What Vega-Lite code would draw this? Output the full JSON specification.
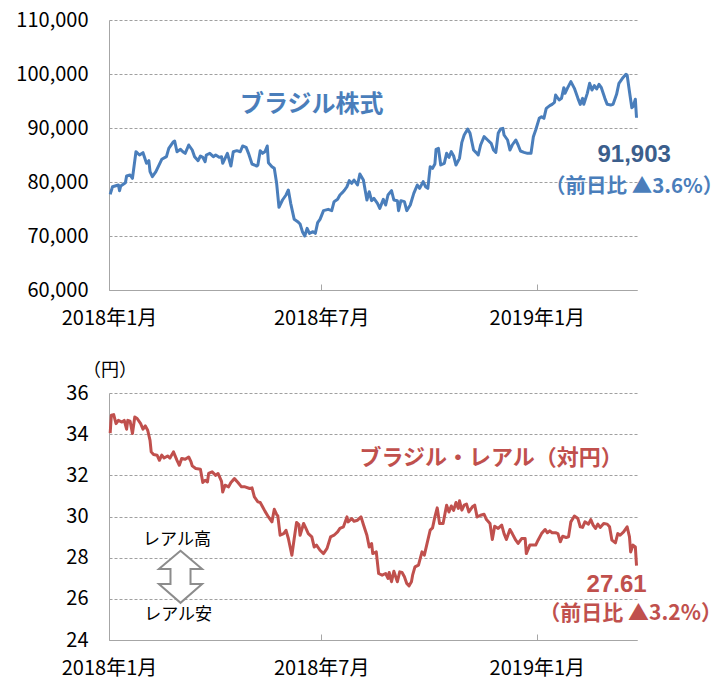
{
  "$schema": "https://vega.github.io/schema/vega-lite/v6.json",
  "background": "white",
  "padding": {"top": 10, "left": 15, "right": 0, "bottom": 2},
  "spacing": 34,
  "config": {
    "view": {"stroke": null},
    "font": "Noto Sans CJK JP",
    "axis": {
      "labelFont": "Noto Sans CJK JP",
      "labelFontSize": 20,
      "labelColor": "#000000",
      "domainColor": "#a6a6a6",
      "tickColor": "#a6a6a6",
      "gridColor": "#a0a0a0",
      "gridDash": [3, 2],
      "title": null
    }
  },
  "datasets": {
    "bov": [
      {"date": "2018-01-02", "value": 77700}, {"date": "2018-01-04", "value": 79130}, {"date": "2018-01-09", "value": 79444}, {"date": "2018-01-10", "value": 78390}, {"date": "2018-01-11", "value": 79259}, {"date": "2018-01-15", "value": 79870}, {"date": "2018-01-16", "value": 81111}, {"date": "2018-01-19", "value": 81296}, {"date": "2018-01-21", "value": 80680}, {"date": "2018-01-24", "value": 85611}, {"date": "2018-01-27", "value": 85000}, {"date": "2018-01-30", "value": 85432},
      {"date": "2018-02-02", "value": 83457}, {"date": "2018-02-04", "value": 83950}, {"date": "2018-02-05", "value": 81913}, {"date": "2018-02-07", "value": 80988}, {"date": "2018-02-10", "value": 81913}, {"date": "2018-02-15", "value": 84203}, {"date": "2018-02-19", "value": 84691}, {"date": "2018-02-21", "value": 86235}, {"date": "2018-02-25", "value": 87469}, {"date": "2018-02-26", "value": 87600}, {"date": "2018-02-28", "value": 85611},
      {"date": "2018-03-03", "value": 86050}, {"date": "2018-03-05", "value": 85611}, {"date": "2018-03-07", "value": 85309}, {"date": "2018-03-10", "value": 86852}, {"date": "2018-03-13", "value": 85926}, {"date": "2018-03-15", "value": 84691}, {"date": "2018-03-18", "value": 83950}, {"date": "2018-03-20", "value": 84815}, {"date": "2018-03-22", "value": 84568}, {"date": "2018-03-24", "value": 83765}, {"date": "2018-03-25", "value": 85000}, {"date": "2018-03-28", "value": 85309}, {"date": "2018-03-31", "value": 84691},
      {"date": "2018-04-02", "value": 85000}, {"date": "2018-04-05", "value": 84568}, {"date": "2018-04-07", "value": 84691}, {"date": "2018-04-08", "value": 83457}, {"date": "2018-04-10", "value": 84383}, {"date": "2018-04-12", "value": 85309}, {"date": "2018-04-15", "value": 82963}, {"date": "2018-04-17", "value": 85611}, {"date": "2018-04-20", "value": 85800}, {"date": "2018-04-23", "value": 85611}, {"date": "2018-04-25", "value": 86667}, {"date": "2018-04-28", "value": 86420}, {"date": "2018-04-30", "value": 85309},
      {"date": "2018-05-03", "value": 83333}, {"date": "2018-05-07", "value": 82963}, {"date": "2018-05-08", "value": 83150}, {"date": "2018-05-10", "value": 85800}, {"date": "2018-05-12", "value": 85309}, {"date": "2018-05-14", "value": 85611}, {"date": "2018-05-16", "value": 86667}, {"date": "2018-05-17", "value": 83580}, {"date": "2018-05-20", "value": 82840}, {"date": "2018-05-22", "value": 82531}, {"date": "2018-05-24", "value": 79753}, {"date": "2018-05-26", "value": 75309}, {"date": "2018-05-29", "value": 76667},
      {"date": "2018-06-01", "value": 77593}, {"date": "2018-06-03", "value": 78519}, {"date": "2018-06-05", "value": 76050}, {"date": "2018-06-08", "value": 73086}, {"date": "2018-06-11", "value": 72654}, {"date": "2018-06-13", "value": 72222}, {"date": "2018-06-15", "value": 70802}, {"date": "2018-06-17", "value": 70000}, {"date": "2018-06-19", "value": 71420}, {"date": "2018-06-21", "value": 70494}, {"date": "2018-06-24", "value": 70802}, {"date": "2018-06-26", "value": 70494}, {"date": "2018-06-28", "value": 72469}, {"date": "2018-06-30", "value": 73086},
      {"date": "2018-07-03", "value": 74691}, {"date": "2018-07-07", "value": 74938}, {"date": "2018-07-10", "value": 74691}, {"date": "2018-07-12", "value": 76358}, {"date": "2018-07-15", "value": 76790}, {"date": "2018-07-17", "value": 77593}, {"date": "2018-07-19", "value": 78025}, {"date": "2018-07-21", "value": 78519}, {"date": "2018-07-23", "value": 79136}, {"date": "2018-07-25", "value": 80247}, {"date": "2018-07-27", "value": 79753}, {"date": "2018-07-29", "value": 80370},
      {"date": "2018-08-01", "value": 79444}, {"date": "2018-08-03", "value": 81481}, {"date": "2018-08-06", "value": 80370}, {"date": "2018-08-09", "value": 76667}, {"date": "2018-08-11", "value": 78210}, {"date": "2018-08-13", "value": 76543}, {"date": "2018-08-15", "value": 76975}, {"date": "2018-08-18", "value": 76050}, {"date": "2018-08-20", "value": 75123}, {"date": "2018-08-23", "value": 76790}, {"date": "2018-08-25", "value": 75741}, {"date": "2018-08-27", "value": 77593}, {"date": "2018-08-30", "value": 78395},
      {"date": "2018-09-01", "value": 76667}, {"date": "2018-09-04", "value": 76543}, {"date": "2018-09-05", "value": 74691}, {"date": "2018-09-07", "value": 76543}, {"date": "2018-09-10", "value": 76358}, {"date": "2018-09-12", "value": 74691}, {"date": "2018-09-15", "value": 75741}, {"date": "2018-09-18", "value": 77901}, {"date": "2018-09-21", "value": 79444}, {"date": "2018-09-23", "value": 78827}, {"date": "2018-09-26", "value": 80062}, {"date": "2018-09-28", "value": 79136}, {"date": "2018-09-30", "value": 78827},
      {"date": "2018-10-02", "value": 82840}, {"date": "2018-10-04", "value": 82531}, {"date": "2018-10-06", "value": 83333}, {"date": "2018-10-07", "value": 86049}, {"date": "2018-10-09", "value": 86235}, {"date": "2018-10-11", "value": 83148}, {"date": "2018-10-14", "value": 83457}, {"date": "2018-10-16", "value": 85309}, {"date": "2018-10-18", "value": 84568}, {"date": "2018-10-20", "value": 85617}, {"date": "2018-10-22", "value": 84815}, {"date": "2018-10-24", "value": 83148}, {"date": "2018-10-27", "value": 84383}, {"date": "2018-10-29", "value": 87346}, {"date": "2018-10-31", "value": 88704},
      {"date": "2018-11-03", "value": 89815}, {"date": "2018-11-05", "value": 89012}, {"date": "2018-11-08", "value": 85926}, {"date": "2018-11-10", "value": 85494}, {"date": "2018-11-12", "value": 85000}, {"date": "2018-11-14", "value": 86852}, {"date": "2018-11-17", "value": 88395}, {"date": "2018-11-20", "value": 87778}, {"date": "2018-11-23", "value": 87160}, {"date": "2018-11-25", "value": 85926}, {"date": "2018-11-27", "value": 85494}, {"date": "2018-11-29", "value": 89012},
      {"date": "2018-12-01", "value": 89815}, {"date": "2018-12-03", "value": 89938}, {"date": "2018-12-04", "value": 88704}, {"date": "2018-12-07", "value": 87778}, {"date": "2018-12-09", "value": 85926}, {"date": "2018-12-11", "value": 86852}, {"date": "2018-12-14", "value": 87778}, {"date": "2018-12-16", "value": 86852}, {"date": "2018-12-18", "value": 85741}, {"date": "2018-12-21", "value": 85494}, {"date": "2018-12-24", "value": 85309}, {"date": "2018-12-27", "value": 85309}, {"date": "2018-12-29", "value": 88395}, {"date": "2018-12-31", "value": 89630},
      {"date": "2019-01-03", "value": 91790}, {"date": "2019-01-05", "value": 92099}, {"date": "2019-01-07", "value": 91790}, {"date": "2019-01-09", "value": 93642}, {"date": "2019-01-12", "value": 94136}, {"date": "2019-01-14", "value": 94383}, {"date": "2019-01-16", "value": 94753}, {"date": "2019-01-17", "value": 96111}, {"date": "2019-01-20", "value": 95185}, {"date": "2019-01-22", "value": 95494}, {"date": "2019-01-24", "value": 97469}, {"date": "2019-01-25", "value": 96420}, {"date": "2019-01-27", "value": 97346}, {"date": "2019-01-30", "value": 98580},
      {"date": "2019-02-02", "value": 97346}, {"date": "2019-02-05", "value": 95494}, {"date": "2019-02-07", "value": 94383}, {"date": "2019-02-09", "value": 95494}, {"date": "2019-02-10", "value": 94383}, {"date": "2019-02-13", "value": 96420}, {"date": "2019-02-15", "value": 98272}, {"date": "2019-02-17", "value": 97037}, {"date": "2019-02-19", "value": 97840}, {"date": "2019-02-21", "value": 97222}, {"date": "2019-02-23", "value": 98086}, {"date": "2019-02-25", "value": 97469}, {"date": "2019-02-28", "value": 95494},
      {"date": "2019-03-02", "value": 94383}, {"date": "2019-03-05", "value": 94259}, {"date": "2019-03-07", "value": 94383}, {"date": "2019-03-10", "value": 96235}, {"date": "2019-03-12", "value": 98272}, {"date": "2019-03-15", "value": 99198}, {"date": "2019-03-18", "value": 99938}, {"date": "2019-03-19", "value": 99815}, {"date": "2019-03-21", "value": 96728}, {"date": "2019-03-23", "value": 93765}, {"date": "2019-03-24", "value": 93951}, {"date": "2019-03-26", "value": 95335}, {"date": "2019-03-27", "value": 91903}
    ],
    "brl": [
      {"date": "2018-01-02", "value": 34.05}, {"date": "2018-01-03", "value": 34.92}, {"date": "2018-01-05", "value": 34.95}, {"date": "2018-01-07", "value": 34.51}, {"date": "2018-01-09", "value": 34.67}, {"date": "2018-01-12", "value": 34.59}, {"date": "2018-01-14", "value": 34.67}, {"date": "2018-01-16", "value": 34.24}, {"date": "2018-01-17", "value": 34.67}, {"date": "2018-01-19", "value": 34.63}, {"date": "2018-01-21", "value": 34.03}, {"date": "2018-01-23", "value": 34.83}, {"date": "2018-01-25", "value": 34.76}, {"date": "2018-01-28", "value": 34.51}, {"date": "2018-01-30", "value": 34.24},
      {"date": "2018-02-01", "value": 34.40}, {"date": "2018-02-03", "value": 34.19}, {"date": "2018-02-05", "value": 33.70}, {"date": "2018-02-06", "value": 33.14}, {"date": "2018-02-08", "value": 33.01}, {"date": "2018-02-11", "value": 32.98}, {"date": "2018-02-13", "value": 32.73}, {"date": "2018-02-15", "value": 32.98}, {"date": "2018-02-17", "value": 32.84}, {"date": "2018-02-20", "value": 32.94}, {"date": "2018-02-22", "value": 32.84}, {"date": "2018-02-25", "value": 33.14}, {"date": "2018-02-28", "value": 32.73},
      {"date": "2018-03-02", "value": 32.49}, {"date": "2018-03-04", "value": 32.82}, {"date": "2018-03-07", "value": 32.78}, {"date": "2018-03-10", "value": 32.89}, {"date": "2018-03-12", "value": 32.65}, {"date": "2018-03-13", "value": 32.46}, {"date": "2018-03-16", "value": 32.33}, {"date": "2018-03-20", "value": 32.30}, {"date": "2018-03-22", "value": 31.65}, {"date": "2018-03-24", "value": 31.76}, {"date": "2018-03-26", "value": 31.68}, {"date": "2018-03-27", "value": 32.09}, {"date": "2018-03-30", "value": 32.17},
      {"date": "2018-04-02", "value": 32.00}, {"date": "2018-04-04", "value": 32.09}, {"date": "2018-04-07", "value": 31.71}, {"date": "2018-04-08", "value": 31.19}, {"date": "2018-04-10", "value": 31.52}, {"date": "2018-04-13", "value": 31.44}, {"date": "2018-04-15", "value": 31.65}, {"date": "2018-04-18", "value": 31.84}, {"date": "2018-04-21", "value": 31.65}, {"date": "2018-04-24", "value": 31.44}, {"date": "2018-04-27", "value": 31.44},
      {"date": "2018-05-01", "value": 31.36}, {"date": "2018-05-03", "value": 31.39}, {"date": "2018-05-05", "value": 30.95}, {"date": "2018-05-08", "value": 30.71}, {"date": "2018-05-10", "value": 30.68}, {"date": "2018-05-12", "value": 30.47}, {"date": "2018-05-14", "value": 30.26}, {"date": "2018-05-17", "value": 29.98}, {"date": "2018-05-20", "value": 29.74}, {"date": "2018-05-22", "value": 30.35}, {"date": "2018-05-24", "value": 30.10}, {"date": "2018-05-25", "value": 30.03}, {"date": "2018-05-27", "value": 29.09}, {"date": "2018-05-30", "value": 29.17},
      {"date": "2018-06-01", "value": 29.33}, {"date": "2018-06-03", "value": 28.93}, {"date": "2018-06-06", "value": 28.12}, {"date": "2018-06-08", "value": 28.93}, {"date": "2018-06-10", "value": 29.71}, {"date": "2018-06-12", "value": 29.61}, {"date": "2018-06-13", "value": 29.09}, {"date": "2018-06-16", "value": 29.66}, {"date": "2018-06-18", "value": 29.42}, {"date": "2018-06-20", "value": 29.17}, {"date": "2018-06-23", "value": 29.01}, {"date": "2018-06-25", "value": 28.52}, {"date": "2018-06-27", "value": 28.61}, {"date": "2018-06-30", "value": 28.36},
      {"date": "2018-07-03", "value": 28.20}, {"date": "2018-07-06", "value": 28.45}, {"date": "2018-07-09", "value": 29.01}, {"date": "2018-07-12", "value": 29.09}, {"date": "2018-07-15", "value": 29.25}, {"date": "2018-07-17", "value": 29.42}, {"date": "2018-07-20", "value": 29.50}, {"date": "2018-07-23", "value": 29.98}, {"date": "2018-07-24", "value": 29.74}, {"date": "2018-07-27", "value": 29.90}, {"date": "2018-07-29", "value": 29.77},
      {"date": "2018-08-01", "value": 29.82}, {"date": "2018-08-04", "value": 29.98}, {"date": "2018-08-06", "value": 29.61}, {"date": "2018-08-09", "value": 29.09}, {"date": "2018-08-11", "value": 28.52}, {"date": "2018-08-13", "value": 28.69}, {"date": "2018-08-14", "value": 28.20}, {"date": "2018-08-17", "value": 28.28}, {"date": "2018-08-19", "value": 27.23}, {"date": "2018-08-22", "value": 27.15}, {"date": "2018-08-25", "value": 27.23}, {"date": "2018-08-27", "value": 26.99}, {"date": "2018-08-28", "value": 27.28}, {"date": "2018-08-30", "value": 26.83},
      {"date": "2018-09-01", "value": 27.34}, {"date": "2018-09-04", "value": 26.83}, {"date": "2018-09-06", "value": 27.31}, {"date": "2018-09-08", "value": 27.28}, {"date": "2018-09-10", "value": 27.07}, {"date": "2018-09-12", "value": 26.75}, {"date": "2018-09-14", "value": 26.63}, {"date": "2018-09-16", "value": 26.83}, {"date": "2018-09-17", "value": 27.15}, {"date": "2018-09-19", "value": 27.55}, {"date": "2018-09-22", "value": 27.64}, {"date": "2018-09-25", "value": 28.28}, {"date": "2018-09-27", "value": 28.12}, {"date": "2018-09-29", "value": 28.61},
      {"date": "2018-10-02", "value": 29.34}, {"date": "2018-10-04", "value": 29.45}, {"date": "2018-10-06", "value": 29.98}, {"date": "2018-10-08", "value": 30.42}, {"date": "2018-10-10", "value": 29.66}, {"date": "2018-10-13", "value": 29.66}, {"date": "2018-10-16", "value": 30.55}, {"date": "2018-10-18", "value": 30.22}, {"date": "2018-10-20", "value": 30.51}, {"date": "2018-10-22", "value": 30.30}, {"date": "2018-10-24", "value": 30.68}, {"date": "2018-10-26", "value": 30.39}, {"date": "2018-10-27", "value": 30.76}, {"date": "2018-10-29", "value": 30.31}, {"date": "2018-10-31", "value": 30.55},
      {"date": "2018-11-02", "value": 30.60}, {"date": "2018-11-04", "value": 30.22}, {"date": "2018-11-07", "value": 30.47}, {"date": "2018-11-09", "value": 30.55}, {"date": "2018-11-11", "value": 29.98}, {"date": "2018-11-14", "value": 30.06}, {"date": "2018-11-17", "value": 30.11}, {"date": "2018-11-19", "value": 29.85}, {"date": "2018-11-22", "value": 29.66}, {"date": "2018-11-24", "value": 28.88}, {"date": "2018-11-26", "value": 29.53}, {"date": "2018-11-29", "value": 29.42},
      {"date": "2018-12-02", "value": 29.58}, {"date": "2018-12-04", "value": 29.17}, {"date": "2018-12-06", "value": 28.88}, {"date": "2018-12-09", "value": 29.37}, {"date": "2018-12-11", "value": 29.17}, {"date": "2018-12-14", "value": 28.85}, {"date": "2018-12-16", "value": 28.69}, {"date": "2018-12-19", "value": 28.93}, {"date": "2018-12-22", "value": 28.93}, {"date": "2018-12-23", "value": 28.20}, {"date": "2018-12-26", "value": 28.61}, {"date": "2018-12-28", "value": 28.61}, {"date": "2018-12-31", "value": 28.61},
      {"date": "2019-01-02", "value": 28.85}, {"date": "2019-01-05", "value": 29.17}, {"date": "2019-01-08", "value": 29.37}, {"date": "2019-01-10", "value": 29.21}, {"date": "2019-01-12", "value": 29.30}, {"date": "2019-01-14", "value": 29.21}, {"date": "2019-01-17", "value": 29.21}, {"date": "2019-01-19", "value": 29.17}, {"date": "2019-01-21", "value": 28.77}, {"date": "2019-01-23", "value": 29.04}, {"date": "2019-01-26", "value": 28.98}, {"date": "2019-01-28", "value": 29.01}, {"date": "2019-01-30", "value": 29.74},
      {"date": "2019-02-02", "value": 30.02}, {"date": "2019-02-05", "value": 29.90}, {"date": "2019-02-07", "value": 29.50}, {"date": "2019-02-09", "value": 29.47}, {"date": "2019-02-11", "value": 29.74}, {"date": "2019-02-14", "value": 29.63}, {"date": "2019-02-16", "value": 29.85}, {"date": "2019-02-18", "value": 29.58}, {"date": "2019-02-20", "value": 29.42}, {"date": "2019-02-22", "value": 29.63}, {"date": "2019-02-24", "value": 29.47}, {"date": "2019-02-27", "value": 29.66},
      {"date": "2019-03-02", "value": 29.63}, {"date": "2019-03-04", "value": 29.50}, {"date": "2019-03-06", "value": 28.85}, {"date": "2019-03-09", "value": 28.72}, {"date": "2019-03-11", "value": 29.17}, {"date": "2019-03-13", "value": 29.09}, {"date": "2019-03-16", "value": 29.25}, {"date": "2019-03-19", "value": 29.50}, {"date": "2019-03-21", "value": 29.01}, {"date": "2019-03-22", "value": 28.28}, {"date": "2019-03-24", "value": 28.61}, {"date": "2019-03-26", "value": 28.52}, {"date": "2019-03-27", "value": 27.61}
    ]
  },
  "vconcat": [
    {
      "width": 528,
      "height": 270,
      "encoding": {
        "x": {
          "field": "date", "type": "temporal",
          "scale": {"type": "utc", "domain": [{"year": 2018, "month": 1, "date": 1, "utc": true}, {"year": 2019, "month": 3, "date": 27, "hours": 10, "utc": true}]},
          "axis": {
            "values": [{"year": 2018, "month": 1, "date": 1, "utc": true}, {"year": 2018, "month": 7, "date": 1, "utc": true}, {"year": 2019, "month": 1, "date": 1, "utc": true}],
            "labelExpr": "utcFormat(datum.value, '%Y年%-m月')",
            "grid": false, "tickSize": -6, "labelPadding": 24, "labelFlush": false, "labelOverlap": false
          }
        },
        "y": {
          "field": "value", "type": "quantitative",
          "scale": {"domain": [60000, 110000], "nice": false, "zero": false},
          "axis": {"values": [60000, 70000, 80000, 90000, 100000, 110000], "format": ",d", "grid": true, "ticks": false, "labelPadding": 21}
        }
      },
      "layer": [
        {"data": {"name": "bov"}, "mark": {"type": "line", "color": "#4a7ebb", "strokeWidth": 3, "strokeJoin": "round"}},
        {"data": {"values": [{"date": "2018-06-23", "value": 94259, "label": "ブラジル株式"}]},
         "mark": {"type": "text", "font": "Noto Sans CJK JP", "fontSize": 24, "fontWeight": "bold", "color": "#4a7ebb", "align": "center", "baseline": "middle"},
         "encoding": {"text": {"field": "label"}}},
        {"data": {"values": [{"date": "2019-03-25", "value": 85000, "label": "91,903"}]},
         "mark": {"type": "text", "font": "Liberation Sans", "fontSize": 24, "fontWeight": "bold", "color": "#3b5e8c", "align": "center", "baseline": "middle"},
         "encoding": {"text": {"field": "label"}}},
        {"data": {"values": [{"date": "2019-03-25", "value": 79074, "label": "（前日比 ▲3.6%）"}]},
         "mark": {"type": "text", "font": "Noto Sans CJK JP", "fontSize": 20.5, "fontWeight": "bold", "color": "#4a7ebb", "align": "center", "baseline": "middle"},
         "encoding": {"text": {"field": "label"}}}
      ]
    },
    {
      "width": 528,
      "height": 247,
      "title": {"text": "（円）", "anchor": "start", "frame": "group", "dx": -26, "offset": 3, "fontSize": 18, "fontWeight": "normal", "font": "Noto Sans CJK JP", "color": "#000000"},
      "encoding": {
        "x": {
          "field": "date", "type": "temporal",
          "scale": {"type": "utc", "domain": [{"year": 2018, "month": 1, "date": 1, "utc": true}, {"year": 2019, "month": 3, "date": 27, "hours": 10, "utc": true}]},
          "axis": {
            "values": [{"year": 2018, "month": 1, "date": 1, "utc": true}, {"year": 2018, "month": 7, "date": 1, "utc": true}, {"year": 2019, "month": 1, "date": 1, "utc": true}],
            "labelExpr": "utcFormat(datum.value, '%Y年%-m月')",
            "grid": false, "tickSize": -6, "labelPadding": 24, "labelFlush": false, "labelOverlap": false
          }
        },
        "y": {
          "field": "value", "type": "quantitative",
          "scale": {"domain": [24, 36], "nice": false, "zero": false},
          "axis": {"values": [24, 26, 28, 30, 32, 34, 36], "format": "d", "grid": true, "ticks": false, "labelPadding": 21}
        }
      },
      "layer": [
        {"data": {"name": "brl"}, "mark": {"type": "line", "color": "#c0504d", "strokeWidth": 3, "strokeJoin": "round"}},
        {"data": {"values": [{"date": "2018-11-23", "value": 32.85, "label": "ブラジル・レアル（対円）"}]},
         "mark": {"type": "text", "font": "Noto Sans CJK JP", "fontSize": 22, "fontWeight": "bold", "color": "#c0504d", "align": "center", "baseline": "middle"},
         "encoding": {"text": {"field": "label"}}},
        {"data": {"values": [{"date": "2019-03-10", "value": 26.67, "label": "27.61"}]},
         "mark": {"type": "text", "font": "Liberation Sans", "fontSize": 24, "fontWeight": "bold", "color": "#c0504d", "align": "center", "baseline": "middle"},
         "encoding": {"text": {"field": "label"}}},
        {"data": {"values": [{"date": "2019-03-22", "value": 25.26, "label": "（前日比 ▲3.2%）"}]},
         "mark": {"type": "text", "font": "Noto Sans CJK JP", "fontSize": 21, "fontWeight": "bold", "color": "#c0504d", "align": "center", "baseline": "middle"},
         "encoding": {"text": {"field": "label"}}},
        {"data": {"values": [{"date": "2018-02-28", "value": 28.85, "label": "レアル高"}, {"date": "2018-03-01", "value": 25.21, "label": "レアル安"}]},
         "mark": {"type": "text", "font": "Noto Sans CJK JP", "fontSize": 17, "color": "#000000", "align": "center", "baseline": "middle"},
         "encoding": {"text": {"field": "label"}}},
        {"data": {"values": [{"date": "2018-03-03", "value": 27.07}]},
         "mark": {"type": "point", "shape": "M0,-1L0.83,-0.3L0.385,-0.3L0.385,0.28L0.83,0.28L0,1L-0.83,0.28L-0.385,0.28L-0.385,-0.3L-0.83,-0.3Z", "size": 2704, "filled": true, "fill": "#ffffff", "stroke": "#8c8c8c", "strokeWidth": 2, "opacity": 1}}
      ]
    }
  ]
}
